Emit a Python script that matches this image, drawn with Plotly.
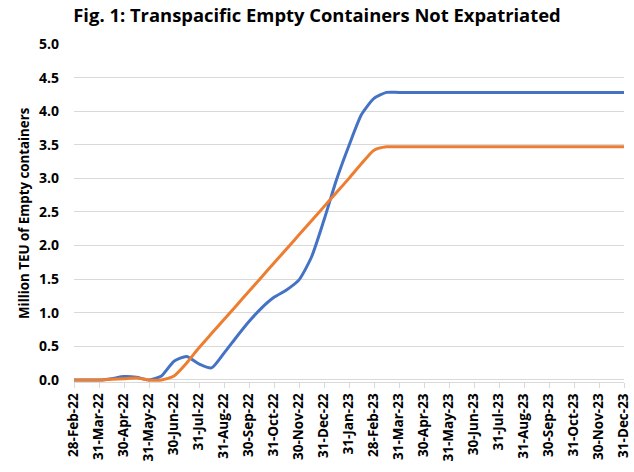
import plotly.graph_objects as go

# Monthly tick labels (month ends)
month_labels = ["28-Feb-22", "31-Mar-22", "30-Apr-22", "31-May-22", "30-Jun-22", "31-Jul-22",
                "31-Aug-22", "30-Sep-22", "31-Oct-22", "30-Nov-22", "31-Dec-22", "31-Jan-23",
                "28-Feb-23", "31-Mar-23", "30-Apr-23", "31-May-23", "30-Jun-23", "31-Jul-23",
                "31-Aug-23", "30-Sep-23", "31-Oct-23", "30-Nov-23", "31-Dec-23"]

# sample positions in months since 28-Feb-22 (half-month steps, then monthly)
t_months = [0, 0.5, 1, 1.5, 2, 2.5, 3, 3.5, 4, 4.5, 5, 5.5, 6, 6.5, 7, 7.5, 8, 8.5, 9, 9.5,
            10, 10.5, 11, 11.5, 12, 12.5, 13, 14, 15, 16, 17, 18, 19, 20, 21, 22]

blue_values = [0, 0, 0, 0.02, 0.05, 0.04, 0.0, 0.06, 0.28, 0.35, 0.24, 0.18, 0.40, 0.64, 0.87,
               1.07, 1.23, 1.34, 1.49, 1.83, 2.38, 2.98, 3.49, 3.95, 4.19, 4.28, 4.28, 4.28,
               4.28, 4.28, 4.28, 4.28, 4.28, 4.28, 4.28, 4.28]

orange_values = [0, 0, 0, 0.01, 0.02, 0.03, 0.0, 0.0, 0.06, 0.25, 0.48, 0.69, 0.90, 1.11, 1.32,
                 1.53, 1.74, 1.95, 2.16, 2.37, 2.58, 2.79, 3.00, 3.22, 3.42, 3.47, 3.47, 3.47,
                 3.47, 3.47, 3.47, 3.47, 3.47, 3.47, 3.47, 3.47]

y_ticks = [0, 0.5, 1.0, 1.5, 2.0, 2.5, 3.0, 3.5, 4.0, 4.5, 5.0]

FONT = "Open Sans"

fig = go.Figure()
fig.add_trace(go.Scatter(x=t_months, y=blue_values, mode="lines",
                         line=dict(color="#4472C4", width=3, shape="spline", smoothing=0.6),
                         name="Blue", showlegend=False, hoverinfo="skip"))
fig.add_trace(go.Scatter(x=t_months, y=orange_values, mode="lines",
                         line=dict(color="#ED7D31", width=3, shape="spline", smoothing=0.6),
                         name="Orange", showlegend=False, hoverinfo="skip"))

fig.update_layout(
    width=634, height=472,
    margin=dict(l=74, r=10, t=44, b=90, autoexpand=False),
    paper_bgcolor="white", plot_bgcolor="white",
    title=dict(text="<b>Fig. 1: Transpacific Empty Containers Not Expatriated</b>",
               x=0.5, xanchor="center", y=0.968, yanchor="middle",
               font=dict(family=FONT, size=18.4, color="black")),
    font=dict(family=FONT, color="black"),
    annotations=[dict(text="<b>Million TEU of Empty containers</b>", textangle=-90,
                      xref="paper", yref="paper", x=-0.091, y=0.5,
                      xanchor="center", yanchor="middle", showarrow=False,
                      font=dict(family=FONT, size=13.3, color="black"))],
)

fig.update_xaxes(
    range=[0, 22],
    automargin=False,
    tickmode="array",
    tickvals=list(range(len(month_labels))),
    ticktext=["<b>%s</b>" % s for s in month_labels],
    tickangle=-90,
    tickfont=dict(family=FONT, size=13.5, color="black"),
    showgrid=False, zeroline=False,
    showline=True, linecolor="#d9d9d9", linewidth=1,
    ticks="outside", ticklen=5, tickcolor="#d9d9d9",
)

fig.update_yaxes(
    range=[-0.03, 5.0],
    automargin=False,
    tickmode="array",
    tickvals=y_ticks,
    ticktext=["<b>%.1f</b>" % v for v in y_ticks],
    tickfont=dict(family=FONT, size=14, color="black"),
    showgrid=True, gridcolor="#d9d9d9", gridwidth=1,
    zeroline=False, showline=False,
    ticklabelstandoff=14,
)

# remove the browser's default 8px body margin so the figure fills the window
fig.write_html("out.html",
               config={"displayModeBar": False},
               post_script="document.body.style.margin='0';document.body.style.overflow='hidden';")
